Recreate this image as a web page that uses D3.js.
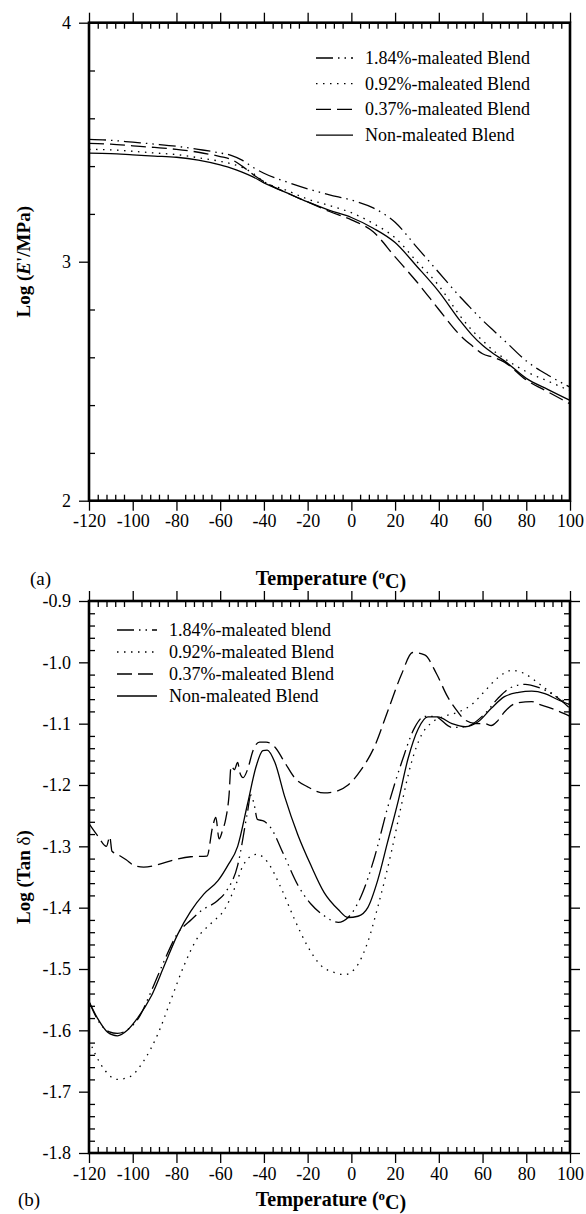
<!DOCTYPE html>
<html>
<head>
<meta charset="utf-8">
<script src="https://cdn.jsdelivr.net/npm/d3@7"></script>
<style>
  body { margin: 0; background: #fff; }
  svg { display: block; }
  text { font-family: "Liberation Serif", "Times New Roman", serif; fill: #000; }
</style>
</head>
<body>
<svg id="chart" width="586" height="1214" viewBox="0 0 586 1214"></svg>
<script>
// ---- data, panel (a): log E' vs temperature ----
const tempA = [-120, -110, -100, -90, -80, -70, -60, -55, -50, -45, -40, -30, -20, -10, 0, 10, 20, 30, 40, 50, 55, 60, 65, 70, 80, 90, 100];
const eMal184 = [3.512, 3.508, 3.500, 3.492, 3.483, 3.470, 3.455, 3.445, 3.425, 3.395, 3.370, 3.335, 3.305, 3.280, 3.258, 3.225, 3.165, 3.060, 2.955, 2.850, 2.802, 2.755, 2.712, 2.670, 2.585, 2.525, 2.475];
const eMal092 = [3.470, 3.468, 3.462, 3.455, 3.448, 3.435, 3.420, 3.410, 3.395, 3.370, 3.335, 3.300, 3.262, 3.235, 3.205, 3.160, 3.100, 3.000, 2.900, 2.770, 2.715, 2.670, 2.628, 2.595, 2.540, 2.500, 2.460];
const eMal037 = [3.495, 3.492, 3.485, 3.478, 3.470, 3.458, 3.440, 3.428, 3.400, 3.365, 3.335, 3.290, 3.250, 3.210, 3.175, 3.125, 3.020, 2.915, 2.800, 2.690, 2.650, 2.615, 2.600, 2.580, 2.505, 2.455, 2.405];
const eNonMal = [3.454, 3.452, 3.447, 3.442, 3.437, 3.425, 3.405, 3.392, 3.375, 3.355, 3.330, 3.290, 3.250, 3.215, 3.185, 3.140, 3.080, 2.980, 2.875, 2.750, 2.695, 2.650, 2.615, 2.585, 2.512, 2.465, 2.420];

// ---- data, panel (b): log tan delta vs temperature ----
const tT184 = [-120, -116, -111, -107, -102, -97, -92, -86, -80, -73, -69, -61, -57, -52, -47.5, -46, -44.5, -43, -40, -37, -31, -24.5, -18.5, -12.5, -6, -1.5, 4.5, 10.5, 16.5, 23, 29, 33.5, 38, 46, 52, 61, 67, 73, 79.5, 85.5, 91.5, 100];
const tan184 = [-1.553, -1.583, -1.602, -1.605, -1.598, -1.578, -1.540, -1.490, -1.445, -1.419, -1.406, -1.388, -1.372, -1.331, -1.244, -1.216, -1.231, -1.256, -1.259, -1.269, -1.313, -1.363, -1.394, -1.413, -1.424, -1.416, -1.381, -1.319, -1.238, -1.163, -1.106, -1.088, -1.088, -1.106, -1.105, -1.084, -1.059, -1.041, -1.036, -1.041, -1.051, -1.075];

const tT092 = [-120, -114.5, -107, -101, -95, -88.5, -82.5, -76.5, -70.5, -64, -58, -53.5, -49.5, -46, -43, -38.5, -32, -26, -20, -14, -7.5, -3, 1.5, 7.5, 12, 18.5, 23, 27.5, 32, 36.5, 42.5, 49, 55, 61, 67, 73.5, 79.5, 85.5, 91.5, 100];
const tan092 = [-1.616, -1.656, -1.680, -1.675, -1.650, -1.606, -1.550, -1.494, -1.450, -1.425, -1.403, -1.369, -1.331, -1.316, -1.313, -1.325, -1.369, -1.419, -1.463, -1.494, -1.506, -1.509, -1.500, -1.456, -1.400, -1.306, -1.231, -1.163, -1.119, -1.099, -1.088, -1.081, -1.069, -1.047, -1.025, -1.013, -1.019, -1.034, -1.050, -1.069];

const tT037 = [-120, -116, -112, -110.5, -109.5, -107, -103, -99.5, -95, -88.5, -81, -73.5, -66, -63.5, -62, -60.5, -59, -57.5, -56, -55, -53.5, -52, -51, -49.5, -47.5, -45, -42, -39, -35, -30.5, -26, -20, -12.5, -6, -1.5, 4.5, 10.5, 16.5, 23, 28, 33.5, 39, 44, 47.5, 52, 57, 61, 64, 67, 70, 76, 82.5, 85.5, 91.5, 100];
const tan037 = [-1.263, -1.283, -1.300, -1.284, -1.308, -1.313, -1.322, -1.331, -1.334, -1.330, -1.322, -1.317, -1.316, -1.269, -1.253, -1.288, -1.275, -1.256, -1.219, -1.169, -1.175, -1.163, -1.180, -1.188, -1.175, -1.144, -1.130, -1.130, -1.138, -1.163, -1.188, -1.203, -1.213, -1.209, -1.200, -1.175, -1.138, -1.081, -1.019, -0.984, -0.988, -1.019, -1.056, -1.075, -1.094, -1.100, -1.100, -1.103, -1.095, -1.081, -1.066, -1.064, -1.068, -1.075, -1.088];

const tTNon = [-120, -116, -111.5, -107, -102.5, -98, -91.5, -85.5, -79.5, -73.5, -67.5, -61, -56.5, -52, -47.5, -43.5, -40.5, -38.5, -35, -30.5, -24.5, -18.5, -12.5, -6, -1.5, 3, 7.5, 12, 16.5, 21.5, 26, 30.5, 35, 39.5, 46, 52, 58, 64, 70, 76.5, 82.5, 88.5, 94.5, 100];
const tanNon = [-1.553, -1.581, -1.603, -1.609, -1.600, -1.581, -1.544, -1.494, -1.444, -1.406, -1.378, -1.356, -1.331, -1.300, -1.231, -1.169, -1.144, -1.143, -1.163, -1.219, -1.281, -1.331, -1.375, -1.403, -1.416, -1.414, -1.400, -1.356, -1.294, -1.225, -1.156, -1.109, -1.089, -1.089, -1.100, -1.105, -1.097, -1.075, -1.056, -1.049, -1.047, -1.051, -1.061, -1.069];

const labelsA = ["1.84%-maleated Blend", "0.92%-maleated Blend", "0.37%-maleated Blend", "Non-maleated Blend"];
const labelsB = ["1.84%-maleated blend", "0.92%-maleated Blend", "0.37%-maleated Blend", "Non-maleated Blend"];
const xTicks = [-120, -100, -80, -60, -40, -20, 0, 20, 40, 60, 80, 100];
const yTicksA = [2, 3, 4];
const yTicksB = [-1.8, -1.7, -1.6, -1.5, -1.4, -1.3, -1.2, -1.1, -1.0, -0.9];

// ---- styles ----
const dashes = ["17,5,1.5,5,1.5,5", "1.5,5.5", "15,6", null];
const plotL = 89, plotR = 570;
const svg = d3.select("#chart");

const x = d3.scaleLinear().domain([-120, 100]).range([plotL, plotR]);
const xMinor = d3.range(-120, 101, 4).filter(d => d % 20 !== 0);

function zip(ts, vs) { return ts.map((t, i) => [t, vs[i]]); }

function drawPanel(p) {
  const g = svg.append("g");
  const y = d3.scaleLinear().domain(p.yDomain).range([p.bottom, p.top]);

  // minor ticks point inward, major ticks outward
  const axes = [
    [d3.axisBottom(x).tickValues(xTicks).tickSize(10).tickPadding(4).tickFormat(d => String(d)), p.bottom],
    [d3.axisBottom(x).tickValues(xMinor).tickSize(-6).tickFormat(""), p.bottom],
    [d3.axisTop(x).tickValues(xTicks).tickSize(10).tickFormat(""), p.top],
    [d3.axisTop(x).tickValues(xMinor).tickSize(-6).tickFormat(""), p.top]
  ];
  axes.forEach(([ax, ty]) => {
    g.append("g").attr("transform", `translate(0,${ty})`).call(ax);
  });
  g.append("g").attr("transform", `translate(${plotL},0)`)
    .call(d3.axisLeft(y).tickValues(p.yTicks).tickSize(10).tickPadding(8).tickFormat(p.fmt));
  g.append("g").attr("transform", `translate(${plotL},0)`)
    .call(d3.axisLeft(y).tickValues(p.yMinor).tickSize(-6).tickFormat(""));
  if (p.rightTicks) {
    g.append("g").attr("transform", `translate(${plotR},0)`)
      .call(d3.axisRight(y).tickValues(p.yTicks).tickSize(10).tickFormat(""));
    g.append("g").attr("transform", `translate(${plotR},0)`)
      .call(d3.axisRight(y).tickValues(p.yMinor).tickSize(-6).tickFormat(""));
  }
  g.selectAll(".domain").remove();
  g.selectAll(".tick line").attr("stroke", "#000").attr("stroke-width", 1.3);
  g.selectAll(".tick text").style("font-size", "18px").attr("fill", "#000");

  // frame
  g.append("rect")
    .attr("x", plotL).attr("y", p.top)
    .attr("width", plotR - plotL).attr("height", p.bottom - p.top)
    .attr("fill", "none").attr("stroke", "#000").attr("stroke-width", 2.6);

  // curves
  const line = d3.line().x(d => x(d[0])).y(d => y(d[1])).curve(d3.curveMonotoneX);
  p.series.forEach((s, i) => {
    g.append("path")
      .datum(s)
      .attr("d", line)
      .attr("fill", "none")
      .attr("stroke", "#000")
      .attr("stroke-width", 1.3)
      .attr("stroke-dasharray", dashes[i]);
  });

  // legend
  p.labels.forEach((lab, i) => {
    const ly = p.legY + i * p.legStep;
    g.append("line")
      .attr("x1", p.legX).attr("x2", p.legX + p.legLen)
      .attr("y1", ly).attr("y2", ly)
      .attr("stroke", "#000").attr("stroke-width", 1.3)
      .attr("stroke-dasharray", dashes[i]);
    g.append("text")
      .attr("x", p.legX + p.legLen + 12).attr("y", ly)
      .attr("dy", "0.33em")
      .style("font-size", "18px")
      .text(lab);
  });

  // y title
  const yt = g.append("text")
    .attr("transform", `translate(30,${(p.top + p.bottom) / 2}) rotate(-90)`)
    .attr("text-anchor", "middle")
    .style("font-size", "19px").style("font-weight", "bold");
  p.yTitle(yt);

  // x title
  const xt = g.append("text")
    .attr("x", 331).attr("y", p.xTitleY)
    .attr("text-anchor", "middle")
    .style("font-size", "20px").style("font-weight", "bold");
  xt.append("tspan").text("Temperature (");
  xt.append("tspan").attr("dy", "-0.45em").style("font-size", "13px").text("o");
  xt.append("tspan").attr("dy", "0.45em").text("C)");

  g.append("text")
    .attr("x", p.tagX).attr("y", p.xTitleY)
    .style("font-size", "19px")
    .text(p.tag);
}

drawPanel({
  top: 22.7, bottom: 500.7,
  yDomain: [2, 4], yTicks: yTicksA,
  yMinor: d3.range(10, 20).filter(i => i % 5 !== 0).map(i => i / 5),
  fmt: d => String(d),
  rightTicks: false,
  series: [zip(tempA, eMal184), zip(tempA, eMal092), zip(tempA, eMal037), zip(tempA, eNonMal)],
  labels: labelsA,
  legX: 316, legLen: 37, legY: 58, legStep: 25.7,
  yTitle: t => {
    t.append("tspan").text("Log (");
    t.append("tspan").style("font-style", "italic").text("E");
    t.append("tspan").text("'/MPa)");
  },
  xTitleY: 585, tag: "(a)", tagX: 30
});

drawPanel({
  top: 601, bottom: 1153,
  yDomain: [-1.8, -0.9], yTicks: yTicksB,
  yMinor: d3.range(-90, -45).filter(i => i % 5 !== 0).map(i => i / 50),
  fmt: d => d.toFixed(1),
  rightTicks: true,
  series: [zip(tT184, tan184), zip(tT092, tan092), zip(tT037, tan037), zip(tTNon, tanNon)],
  labels: labelsB,
  legX: 117, legLen: 40, legY: 630, legStep: 22,
  yTitle: t => {
    t.append("tspan").text("Log (Tan ");
    t.append("tspan").style("font-weight", "normal").text("δ");
    t.append("tspan").text(")");
  },
  xTitleY: 1206, tag: "(b)", tagX: 18
});
</script>
</body>
</html>
